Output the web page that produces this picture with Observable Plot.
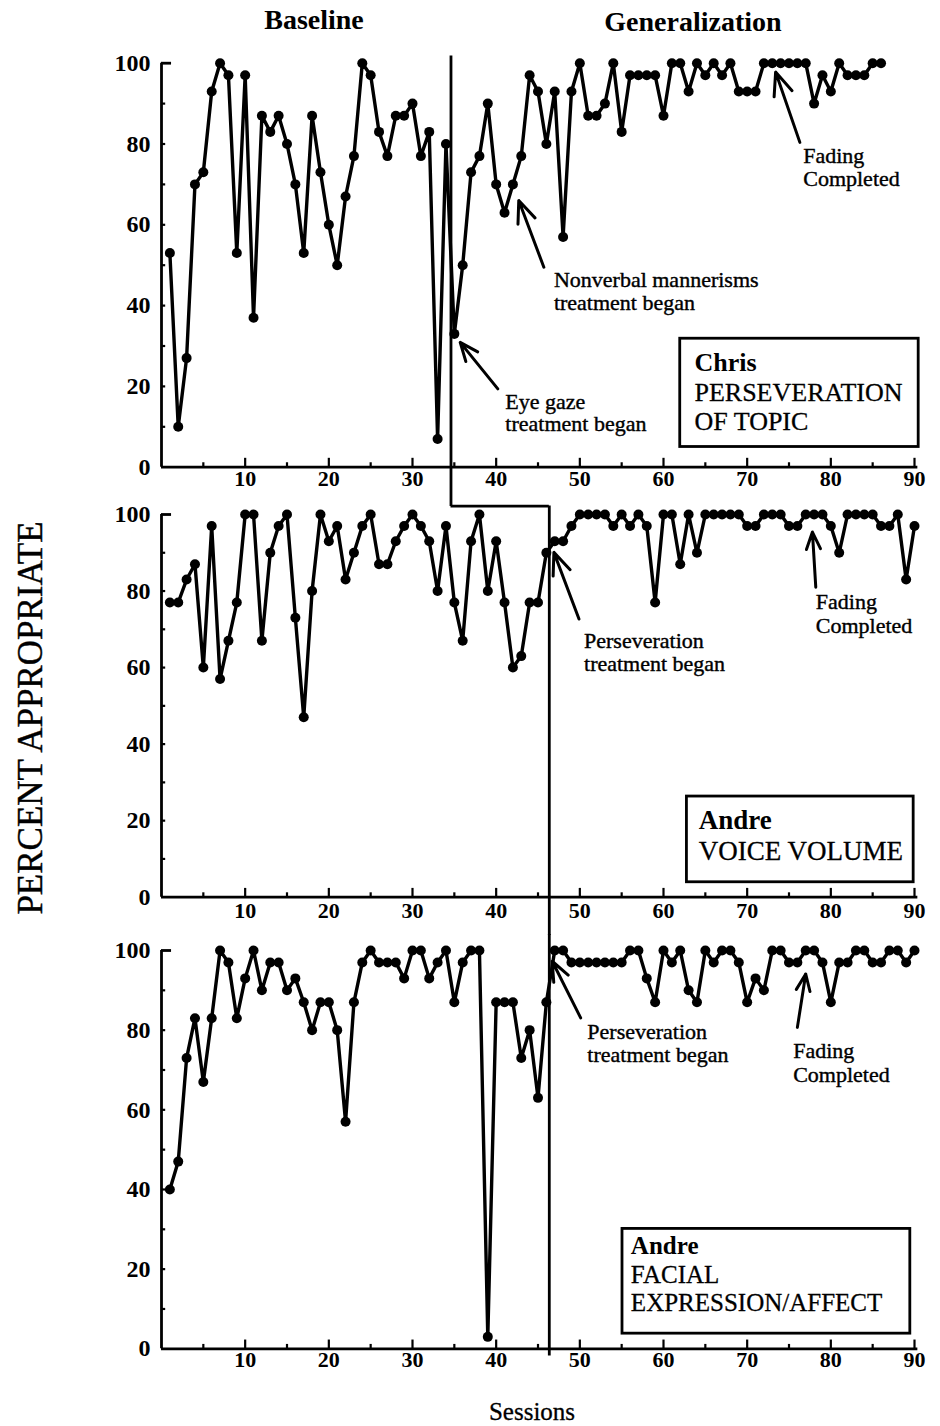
<!DOCTYPE html>
<html><head><meta charset="utf-8">
<script src="https://cdn.jsdelivr.net/npm/d3@7"></script>
<script src="https://cdn.jsdelivr.net/npm/@observablehq/plot@0.6"></script>
<style>
body{margin:0;background:#fff;}
#wrap{position:relative;width:940px;height:1426px;overflow:hidden;}
.panel{position:absolute;left:0;}
svg{overflow:visible;}
</style></head><body><div id="wrap"></div>
<script>
// ---- data (percent appropriate per session) ----
const chrisTopic = [53,10,27,70,73,93,100,97,53,97,
 37,87,83,87,80,70,53,87,73,60,
 50,67,77,100,97,83,77,87,87,90,
 77,83,7,80,33,50,73,77,90,70,
 63,70,77,97,93,80,93,57,93,100,
 87,87,90,100,83,97,97,97,97,87,
 100,100,93,100,97,100,97,100,93,93,
 93,100,100,100,100,100,100,90,97,93,
 100,97,97,97,100,100];
const andreVoice = [77,77,83,87,60,97,57,67,77,100,
 100,67,90,97,100,73,47,80,100,93,
 97,83,90,97,100,87,87,93,97,100,
 97,93,80,97,77,67,93,100,80,93,
 77,60,63,77,77,90,93,93,97,100,
 100,100,100,97,100,97,100,97,77,100,
 100,87,100,90,100,100,100,100,100,97,
 97,100,100,100,97,97,100,100,100,97,
 90,100,100,100,100,97,97,100,83,97];
const andreFacial = [40,47,73,83,67,83,100,97,83,93,
 100,90,97,97,90,93,87,80,87,87,
 80,57,87,97,100,97,97,97,93,100,
 100,93,97,100,87,97,100,100,3,87,
 87,87,73,80,63,87,100,100,97,97,
 97,97,97,97,97,100,100,93,87,100,
 97,100,90,87,100,97,100,100,97,87,
 93,90,100,100,97,97,100,100,97,87,
 97,97,100,100,97,97,100,100,97,100];

// ---- ticks ----
const xTickLabels = [10,20,30,40,50,60,70,80,90];
const xMinorTicks = [5,15,25,35,45,55,65,75,85];
const yTickLabels = [0,20,40,60,80,100];
const yMinorTicks = [10,20,30,40,50,60,70,80,90];

// ---- phase change (sessions) ----
const phaseChris = 34.6;
const phaseAndre = 46.35;

// ---- annotations: text lines (baseline positions in data units) ----
const chrisNotes = [
 {x:46.9, y:44.6, t:"Nonverbal mannerisms"}, {x:46.9, y:39.0, t:"treatment began"},
 {x:41.1, y:14.5, t:"Eye gaze"}, {x:41.1, y:8.9, t:"treatment began"},
 {x:76.7, y:75.3, t:"Fading"}, {x:76.7, y:69.6, t:"Completed"}
];
const chrisArrows = [
 {x1:45.7, y1:49.5, x2:42.7, y2:66.0},
 {x1:40.2, y1:19.4, x2:35.7, y2:30.9},
 {x1:76.3, y1:80.4, x2:73.4, y2:97.8}
];
const chrisBox = [{x1:62.0, x2:90.5, y1:5.0, y2:31.8}];
const chrisBoxText = [
 {x:63.7, y:23.9, t:"Chris", bold:true},
 {x:63.7, y:16.5, t:"PERSEVERATION"},
 {x:63.7, y:9.2, t:"OF TOPIC"}
];

const voiceNotes = [
 {x:50.5, y:65.1, t:"Perseveration"}, {x:50.5, y:59.1, t:"treatment began"},
 {x:78.2, y:75.3, t:"Fading"}, {x:78.2, y:69.0, t:"Completed"}
];
const voiceArrows = [
 {x1:49.9, y1:72.7, x2:46.9, y2:90.1},
 {x1:78.2, y1:81.0, x2:77.8, y2:95.4}
];
const voiceBox = [{x1:62.8, x2:89.9, y1:3.9, y2:26.3}];
const voiceBoxText = [
 {x:64.2, y:17.7, t:"Andre", bold:true},
 {x:64.2, y:9.6, t:"VOICE VOLUME"}
];

const facialNotes = [
 {x:50.9, y:77.7, t:"Perseveration"}, {x:50.9, y:72.0, t:"treatment began"},
 {x:75.5, y:72.9, t:"Fading"}, {x:75.5, y:67.0, t:"Completed"}
];
const facialArrows = [
 {x1:50.1, y1:83.1, x2:46.7, y2:97.3},
 {x1:76.0, y1:80.7, x2:77.0, y2:94.1}
];
const facialBox = [{x1:55.1, x2:89.5, y1:3.8, y2:30.1}];
const facialBoxText = [
 {x:56.1, y:23.8, t:"Andre", bold:true},
 {x:56.1, y:16.6, t:"FACIAL"},
 {x:56.1, y:9.5, t:"EXPRESSION/AFFECT"}
];

const FONT = "'Liberation Serif','Times New Roman',serif";

function panel(cfg) {
  const data = cfg.values.map((v, i) => ({session: i + 1, pct: v}));
  return Plot.plot({
    width: 940, height: cfg.height,
    marginLeft: 161, marginRight: 26, marginTop: cfg.mt, marginBottom: cfg.mb,
    x: {domain: [0, 90]}, y: {domain: [0, 100]},
    style: {background: "transparent", fontFamily: FONT, fontSize: "22px", color: "black", overflow: "visible"},
    marks: [
      // axis lines and inward ticks
      Plot.ruleY([0], {x1: 0, x2: 90.4, strokeWidth: 2.8}),
      Plot.ruleX([0], {y1: 0, y2: 100, strokeWidth: 2.8}),
      Plot.ruleX(xTickLabels, {y1: 0, y2: cfg.major, strokeWidth: 2.2}),
      Plot.ruleX(xMinorTicks, {y1: 0, y2: cfg.major / 2, strokeWidth: 2.2}),
      Plot.ruleY(yMinorTicks, {x1: 0, x2: 0.5, strokeWidth: 2.2}),
      Plot.ruleY([100], {x1: 0, x2: 1.2, strokeWidth: 2.8}),
      Plot.axisX({ticks: xTickLabels, tickSize: 0, tickPadding: cfg.xpad, label: null, fontWeight: "bold", fontSize: 22}),
      Plot.axisY({ticks: yTickLabels, tickSize: 0, tickPadding: 11, label: null, fontWeight: "bold", fontSize: 24}),
      // phase-change lines
      ...cfg.phase,
      // label box
      Plot.rect(cfg.box, {x1: "x1", x2: "x2", y1: "y1", y2: "y2", fill: "white", stroke: "black", strokeWidth: 2.8}),
      // data
      Plot.line(data, {x: "session", y: "pct", stroke: "black", strokeWidth: 3.4}),
      Plot.dot(data, {x: "session", y: "pct", r: 5, fill: "black", stroke: null}),
      // annotations
      Plot.arrow(cfg.arrows, {x1: "x1", y1: "y1", x2: "x2", y2: "y2", stroke: "black", strokeWidth: 3, headLength: 15, headAngle: 45}),
      Plot.text(cfg.notes, {x: "x", y: "y", text: "t", textAnchor: "start", lineAnchor: "bottom", fontSize: 22, fill: "black", stroke: "black", strokeWidth: 0.4}),
      Plot.text(cfg.boxText.filter(d => !d.bold), {x: "x", y: "y", text: "t", textAnchor: "start", lineAnchor: "bottom", fontSize: cfg.boxSize, fill: "black", stroke: "black", strokeWidth: 0.3}),
      Plot.text(cfg.boxText.filter(d => d.bold), {x: "x", y: "y", text: "t", textAnchor: "start", lineAnchor: "bottom", fontSize: cfg.boxSize, fontWeight: "bold", fill: "black"})
    ]
  });
}

const wrap = document.getElementById("wrap");
function place(node, top) {
  const d = document.createElement("div");
  d.className = "panel"; d.style.top = top + "px";
  d.appendChild(node); wrap.appendChild(d);
}

place(panel({
  values: chrisTopic, height: 500, mt: 62.7, mb: 33.3, major: 2.2, xpad: 3, boxSize: 26,
  phase: [Plot.ruleX([phaseChris], {y1: -9.7, y2: 101.8, strokeWidth: 2.8})],
  notes: chrisNotes, arrows: chrisArrows, box: chrisBox, boxText: chrisBoxText
}), 0);

place(panel({
  values: andreVoice, height: 420, mt: 14, mb: 23.3, major: 2.3, xpad: 5, boxSize: 27,
  phase: [
    Plot.ruleY([102.2], {x1: phaseChris, x2: phaseAndre, strokeWidth: 2.8}),
    Plot.ruleX([phaseAndre], {y1: -10, y2: 102.2, strokeWidth: 2.8})
  ],
  notes: voiceNotes, arrows: voiceArrows, box: voiceBox, boxText: voiceBoxText
}), 500);

place(panel({
  values: andreFacial, height: 460, mt: 30, mb: 31.7, major: 2.2, xpad: 3, boxSize: 25,
  phase: [Plot.ruleX([phaseAndre], {y1: -1.8, y2: 104, strokeWidth: 2.8})],
  notes: facialNotes, arrows: facialArrows, box: facialBox, boxText: facialBoxText
}), 920);

// overlay titles
const over = d3.select(wrap).append("svg")
  .attr("width", 940).attr("height", 1426)
  .style("position", "absolute").style("left", 0).style("top", 0).style("pointer-events", "none")
  .style("font-family", FONT);
over.append("text").attr("x", 314).attr("y", 29).attr("text-anchor", "middle")
  .attr("font-size", 28).attr("font-weight", "bold").text("Baseline");
over.append("text").attr("x", 693).attr("y", 31).attr("text-anchor", "middle")
  .attr("font-size", 28).attr("font-weight", "bold").text("Generalization");
over.append("text").attr("transform", "translate(42,718) rotate(-90)").attr("text-anchor", "middle")
  .attr("font-size", 35).attr("stroke", "black").attr("stroke-width", 0.4).text("PERCENT APPROPRIATE");
over.append("text").attr("x", 532).attr("y", 1420).attr("text-anchor", "middle")
  .attr("font-size", 25).attr("stroke", "black").attr("stroke-width", 0.3).text("Sessions");
</script></body></html>
